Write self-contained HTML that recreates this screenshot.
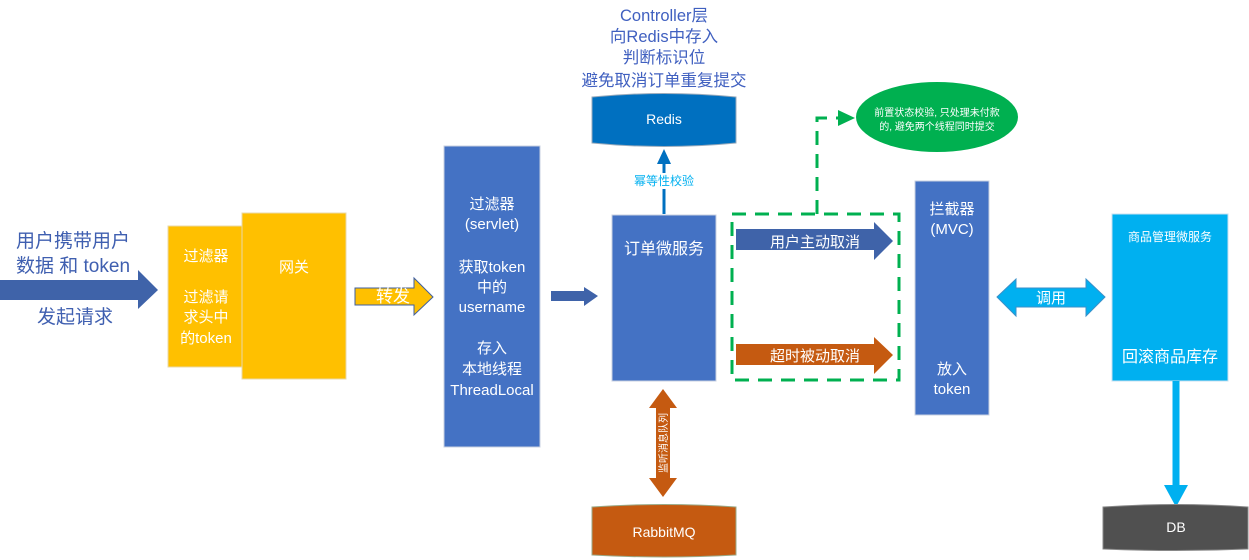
<!DOCTYPE html>
<html><head><meta charset="utf-8"><style>
html,body{margin:0;padding:0;background:#fff;}
svg{display:block;font-family:"Liberation Sans","Noto Sans CJK SC",sans-serif;}
</style></head><body>
<svg width="1249" height="560" viewBox="0 0 1249 560" xmlns="http://www.w3.org/2000/svg">
<polygon points="0,280 138,280 138,270 158,290 138,309 138,300 0,300" fill="#3F63A9"/>
<g fill="#3F5FB0" font-size="19" text-anchor="middle">
<text x="73" y="247">用户携带用户</text>
<text x="73" y="272">数据 和 token</text>
<text x="75" y="323">发起请求</text>
</g>
<rect x="168" y="226" width="74" height="141" fill="#FFC000" stroke="#e8d9a8"/>
<rect x="242" y="213" width="104" height="166" fill="#FFC000" stroke="#e8d9a8"/>
<g fill="#fff" font-size="15" text-anchor="middle">
<text x="206" y="261">过滤器</text>
<text x="206" y="302">过滤请</text>
<text x="206" y="322">求头中</text>
<text x="206" y="343">的token</text>
<text x="294" y="272">网关</text>
</g>
<polygon points="355,288 414,288 414,278 433,297 414,315 414,305 355,305" fill="#FFC000" stroke="#3F5FA0" stroke-width="1"/>
<text x="393" y="302" fill="#fff" font-size="17" text-anchor="middle">转发</text>
<rect x="444" y="146" width="96" height="301" fill="#4472C4" stroke="#c8d0e0"/>
<g fill="#fff" font-size="15" text-anchor="middle">
<text x="492" y="209">过滤器</text>
<text x="492" y="229">(servlet)</text>
<text x="492" y="272">获取token</text>
<text x="492" y="292">中的</text>
<text x="492" y="312">username</text>
<text x="492" y="353">存入</text>
<text x="492" y="374">本地线程</text>
<text x="492" y="395">ThreadLocal</text>
</g>
<polygon points="551,291 584,291 584,287 598,296 584,306 584,301 551,301" fill="#3F63A9"/>
<rect x="612" y="215" width="104" height="166" fill="#4472C4" stroke="#c8d0e0"/>
<text x="664" y="254" fill="#fff" font-size="16" text-anchor="middle">订单微服务</text>
<g fill="#4060C0" font-size="16.5" text-anchor="middle">
<text x="664" y="21">Controller层</text>
<text x="664" y="42">向Redis中存入</text>
<text x="664" y="63">判断标识位</text>
<text x="664" y="86">避免取消订单重复提交</text>
</g>
<path d="M592,97 Q664,90 736,97 L736,143 Q664,150 592,143 Z" fill="#0070C0" stroke="#9ab"/>
<text x="664" y="124" fill="#fff" font-size="14" text-anchor="middle">Redis</text>
<line x1="664" y1="214" x2="664" y2="162" stroke="#0070C0" stroke-width="3"/>
<polygon points="657,164 664,149 671,164" fill="#0070C0"/>
<rect x="628" y="173" width="72" height="16" fill="#fff"/>
<text x="664" y="185" fill="#00B0F0" font-size="12" text-anchor="middle">幂等性校验</text>
<rect x="732" y="214" width="167" height="166" fill="none" stroke="#00B050" stroke-width="3" stroke-dasharray="14,9"/>
<path d="M817,214 L817,118 L840,118" fill="none" stroke="#00B050" stroke-width="3" stroke-dasharray="14,9"/>
<polygon points="838,110 855,118 838,126" fill="#00B050"/>
<ellipse cx="937" cy="117" rx="81" ry="35" fill="#00B050"/>
<g fill="#fff" font-size="10" text-anchor="middle">
<text x="937" y="116">前置状态校验, 只处理未付款</text>
<text x="937" y="130">的, 避免两个线程同时提交</text>
</g>
<polygon points="736,229 874,229 874,222 893,241 874,260 874,250 736,250" fill="#3F63A9"/>
<text x="815" y="247" fill="#fff" font-size="15" text-anchor="middle">用户主动取消</text>
<polygon points="736,344 874,344 874,337 893,355 874,374 874,365 736,365" fill="#C55A11"/>
<text x="815" y="361" fill="#fff" font-size="15" text-anchor="middle">超时被动取消</text>
<rect x="915" y="181" width="74" height="234" fill="#4472C4" stroke="#c8d0e0"/>
<g fill="#fff" font-size="15" text-anchor="middle">
<text x="952" y="214">拦截器</text>
<text x="952" y="234">(MVC)</text>
<text x="952" y="374">放入</text>
<text x="952" y="394">token</text>
</g>
<polygon points="997,297 1016,279 1016,288 1086,288 1086,279 1105,297 1086,316 1086,307 1016,307 1016,316" fill="#00B0F0" stroke="#3a8fc8"/>
<text x="1051" y="303" fill="#fff" font-size="15" text-anchor="middle">调用</text>
<rect x="1112" y="214" width="116" height="167" fill="#00B0F0" stroke="#c8e0f0"/>
<text x="1170" y="241" fill="#fff" font-size="12" text-anchor="middle">商品管理微服务</text>
<text x="1170" y="362" fill="#fff" font-size="16" text-anchor="middle">回滚商品库存</text>
<line x1="1176" y1="381" x2="1176" y2="487" stroke="#00B0F0" stroke-width="7"/>
<polygon points="1164,485 1188,485 1176,507" fill="#00B0F0"/>
<path d="M1103,507 Q1176,502 1248,507 L1248,549 Q1176,552 1103,549 Z" fill="#505050" stroke="#888"/>
<text x="1176" y="532" fill="#fff" font-size="14" text-anchor="middle">DB</text>
<polygon points="663,389 677,408 670,408 670,478 677,478 663,497 649,478 656,478 656,408 649,408" fill="#C55A11"/>
<text transform="translate(667,443) rotate(-90)" fill="#fff" font-size="10" text-anchor="middle">监听消息队列</text>
<path d="M592,507 Q664,502 736,507 L736,555 Q664,559 592,555 Z" fill="#C55A11" stroke="#9a8"/>
<text x="664" y="537" fill="#fff" font-size="14" text-anchor="middle">RabbitMQ</text>
</svg>
</body></html>
